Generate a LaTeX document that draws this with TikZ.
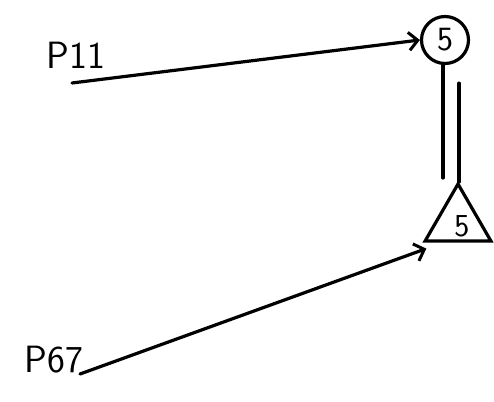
\documentclass[tikz,border=0pt]{standalone}
\usetikzlibrary{arrows.meta,shapes.geometric}
\begin{document}
\begin{tikzpicture}[x=1pt,y=-1pt,
  ink/.style={line width=3.2pt,line cap=round,black},
  lbl/.style={font=\fontsize{38}{38}\selectfont\sffamily,inner sep=0pt},
  arr/.style={ink,-{Straight Barb[length=9pt,width=18pt,line width=3pt]}}]
\useasboundingbox (0,0) rectangle (494,401);
\node[lbl] (p11) at (76,55) {P11};
\node[lbl] (p67) at (54,360) {P67};
\node[ink,circle,draw,minimum size=47pt,inner sep=0pt,font=\fontsize{34}{34}\selectfont\sffamily] (c5) at (445,40) {5};
\node[ink,regular polygon,regular polygon sides=3,draw,minimum size=76pt,inner sep=0pt] (t5) at (458,222) {};
\node[font=\fontsize{32}{32}\selectfont\sffamily] (t5l) at (t5.center) [xshift=4pt,yshift=-4pt] {5};
\coordinate (a1) at (72,83);
\coordinate (a2) at (80,378);
\draw[arr] (a1) -- (c5.west);
\draw[arr] ([yshift=4pt]a2) -- ([xshift=4pt,yshift=-6pt]t5.corner 2);
\draw[ink] ([xshift=-2pt]c5.south) -- ([xshift=-2pt]c5.south |- 0,178);
\draw[ink] ([xshift=14pt,yshift=-18pt]c5.south) -- ([xshift=14pt]c5.south |- 0,182);
\end{tikzpicture}
\end{document}
